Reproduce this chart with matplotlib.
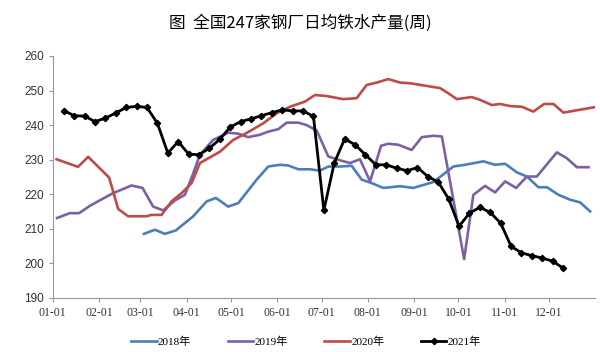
import matplotlib
matplotlib.use("Agg")
import matplotlib.pyplot as plt

plt.rcParams['font.family'] = ['Liberation Serif', 'Noto Sans CJK SC']

# x = day of year, y = 10kt/day
month_ticks = [0, 31, 59, 90, 120, 151, 181, 212, 243, 273, 304, 334]
month_labels = ['01-01', '02-01', '03-01', '04-01', '05-01', '06-01',
                '07-01', '08-01', '09-01', '10-01', '11-01', '12-01']

days_2018 = [61.3, 68.7, 75.4, 82.8, 94.5, 103.5, 109.8, 118.0, 124.8, 137.2,
             145.0, 152.9, 158.4, 165.2, 173.1, 179.8, 185.4, 193.3, 201.1, 207.9,
             214.6, 222.4, 233.7, 242.6, 256.1, 269.6, 277.4, 289.8, 297.6, 304.4,
             312.3, 319.0, 326.8, 332.5, 340.3, 348.1, 354.9, 361.6]
vals_2018 = [208.5, 209.7, 208.5, 209.5, 213.6, 217.9, 218.9, 216.4, 217.4, 224.2,
             228.0, 228.5, 228.3, 227.2, 227.2, 226.8, 228.0, 228.0, 228.2, 224.2,
             223.2, 221.8, 222.3, 221.8, 223.5, 228.0, 228.5, 229.5, 228.5, 228.8,
             226.3, 225.1, 222.0, 222.0, 219.8, 218.4, 217.6, 215.0]

days_2019 = [2.9, 11.4, 17.7, 24.9, 31.6, 40.6, 53.0, 60.4, 67.5, 74.3,
             82.2, 88.9, 94.5, 99.0, 107.9, 118.0, 124.8, 131.5, 139.4, 145.0,
             151.7, 157.4, 165.2, 170.8, 177.6, 185.4, 193.3, 200.0, 206.7, 213.5,
             220.9, 225.8, 232.5, 241.5, 248.3, 256.1, 261.8, 276.8, 283.0, 290.9,
             297.6, 304.4, 311.8, 319.0, 325.7, 339.2, 345.9, 352.7, 360.5]
vals_2019 = [213.1, 214.5, 214.5, 216.6, 218.2, 220.3, 222.5, 221.8, 216.4, 215.3,
             218.2, 219.8, 226.0, 231.4, 235.7, 237.8, 237.5, 236.5, 237.2, 238.1,
             238.8, 240.7, 240.7, 240.0, 238.4, 230.9, 229.8, 229.0, 230.1, 223.7,
             234.0, 234.6, 234.3, 232.8, 236.5, 236.9, 236.7, 201.2, 219.8, 222.4,
             220.5, 223.7, 221.8, 225.1, 225.1, 232.1, 230.4, 227.8, 227.8]

days_2020 = [2.5, 17.0, 23.8, 37.9, 44.0, 50.7, 63.1, 66.5, 73.2, 79.9,
             86.7, 93.4, 99.0, 112.5, 121.4, 130.4, 141.6, 150.6, 159.6, 169.7,
             176.4, 184.3, 195.5, 204.5, 211.2, 218.0, 225.8, 233.7, 240.4, 260.6,
             266.2, 271.9, 281.9, 287.5, 295.4, 301.0, 307.7, 315.6, 323.4, 330.6,
             336.9, 343.6, 351.5, 365.0]
vals_2020 = [230.1, 227.9, 230.8, 224.8, 215.7, 213.6, 213.6, 214.0, 214.0, 217.9,
             220.3, 223.2, 229.0, 232.3, 235.7, 237.7, 240.5, 243.4, 245.3, 246.8,
             248.7, 248.4, 247.5, 247.8, 251.6, 252.3, 253.3, 252.3, 252.1, 250.7,
             249.2, 247.5, 248.1, 247.3, 245.8, 246.1, 245.5, 245.3, 243.9, 246.1,
             246.1, 243.6, 244.2, 245.2]

# 2021 weekly, first week ending around Jan 8
start_2021 = 7.4
vals_2021 = [244.2, 242.7, 242.6, 241.0, 242.0, 243.5, 245.1, 245.4, 245.1, 240.5,
             231.9, 235.2, 231.6, 231.4, 233.3, 235.9, 239.4, 241.0, 241.8, 242.7,
             243.6, 244.4, 244.1, 244.1, 242.5, 215.3, 229.0, 236.0, 234.3, 231.4,
             228.5, 228.5, 227.5, 226.8, 227.7, 225.1, 223.5, 218.6, 210.7, 214.5,
             216.2, 214.7, 211.6, 204.9, 203.0, 202.2, 201.5, 200.6, 198.6]
days_2021 = [start_2021 + 7 * i for i in range(len(vals_2021))]

fig = plt.figure(figsize=(6, 3.52), dpi=100)
ax = fig.add_axes([0.088, 0.154, 0.904, 0.687])

ax.plot(days_2018, vals_2018, color='#4a7ebb', lw=1.9, label='2018年')
ax.plot(days_2019, vals_2019, color='#7d5fa6', lw=1.9, label='2019年')
ax.plot(days_2020, vals_2020, color='#be4b48', lw=1.9, label='2020年')
ax.plot(days_2021, vals_2021, color='black', lw=2.0, marker='D', ms=3.2,
        label='2021年')

ax.set_xlim(0, 365)
ax.set_ylim(190, 260)
ax.set_xticks(month_ticks)
ax.set_xticklabels(month_labels, fontsize=8.5)
ax.set_yticks(range(190, 261, 10))
ax.tick_params(axis='y', labelsize=8.5, colors='#333333', length=3, color='#999999')
ax.tick_params(axis='x', colors='#333333', length=3, color='#999999')
for lab in ax.get_yticklabels():
    lab.set_family('Liberation Sans')
for side in ['top', 'right']:
    ax.spines[side].set_visible(False)
for side in ['left', 'bottom']:
    ax.spines[side].set_color('#999999')

fig.text(0.5, 0.935, '图  全国247家钢厂日均铁水产量(周)', ha='center', va='center',
         fontsize=12, family=['Noto Sans CJK SC'])

fig.legend(loc='center', bbox_to_anchor=(0.51, 0.028), ncol=4, frameon=False,
           fontsize=8, handlelength=2.3, handletextpad=0.1, columnspacing=3.3)

fig.savefig('out.png', dpi=100)
